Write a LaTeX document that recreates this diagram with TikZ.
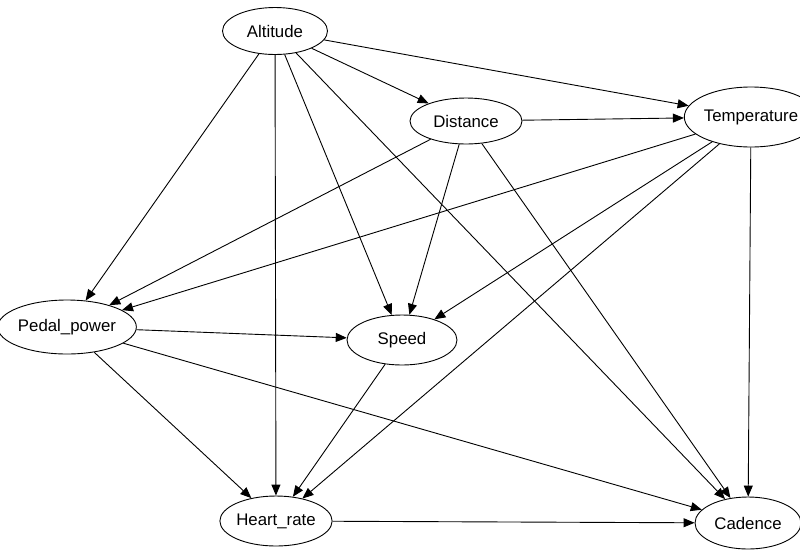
\documentclass[tikz,border=0pt]{standalone}
\usepackage{fontspec}
\setmainfont{Liberation Sans}
\usetikzlibrary{shapes.geometric,arrows.meta}
\begin{document}
\begin{tikzpicture}[x=1pt,y=-1pt,
  var/.style={ellipse,draw,line width=0.9pt,inner sep=0pt,
    font=\fontsize{16.8}{18}\selectfont},
  edge/.style={line width=0.9pt,-{Triangle[length=11pt,width=9pt]}}]
\useasboundingbox (0,0) rectangle (800,550);
\begin{scope}
\clip (0,0) rectangle (800,550);
\node[var,minimum width=105,minimum height=47] (alt) at (275,31) {Altitude};
\node[var,minimum width=112,minimum height=46] (dist) at (466,121) {Distance};
\node[var,minimum width=108,minimum height=60] (temp) at (751,117) {Temperature};
\node[var,minimum width=124,minimum height=54] (pedal) at (67,327) {Pedal\_power};
\node[var,minimum width=110,minimum height=50] (speed) at (402,340) {Speed};
\node[var,minimum width=108,minimum height=50] (heart) at (276,521) {Heart\_rate};
\node[var,minimum width=106,minimum height=52] (cad) at (748,523) {Cadence};
\end{scope}
% edges out of Altitude
\draw[edge] (alt) -- (dist);
\draw[edge] (alt) -- (temp);
\draw[edge] (alt) -- (pedal);
\draw[edge] (alt) -- (speed);
\draw[edge] (alt) -- (heart);
\draw[edge] (alt) -- (cad);
% edges out of Distance
\draw[edge] (dist) -- (temp);
\draw[edge] (dist) -- (pedal);
\draw[edge] (dist) -- (speed);
\draw[edge] (dist) -- (cad);
% edges out of Temperature
\draw[edge] (temp) -- (pedal);
\draw[edge] (temp) -- (speed);
\draw[edge] (temp) -- (heart);
\draw[edge] (temp) -- (cad);
% edges out of Pedal_power
\draw[edge] (pedal) -- (speed);
\draw[edge] (pedal) -- (heart);
\draw[edge] (pedal) -- (cad);
% remaining edges
\draw[edge] (speed) -- (heart);
\draw[edge] (heart) -- (cad);
\end{tikzpicture}
\end{document}
